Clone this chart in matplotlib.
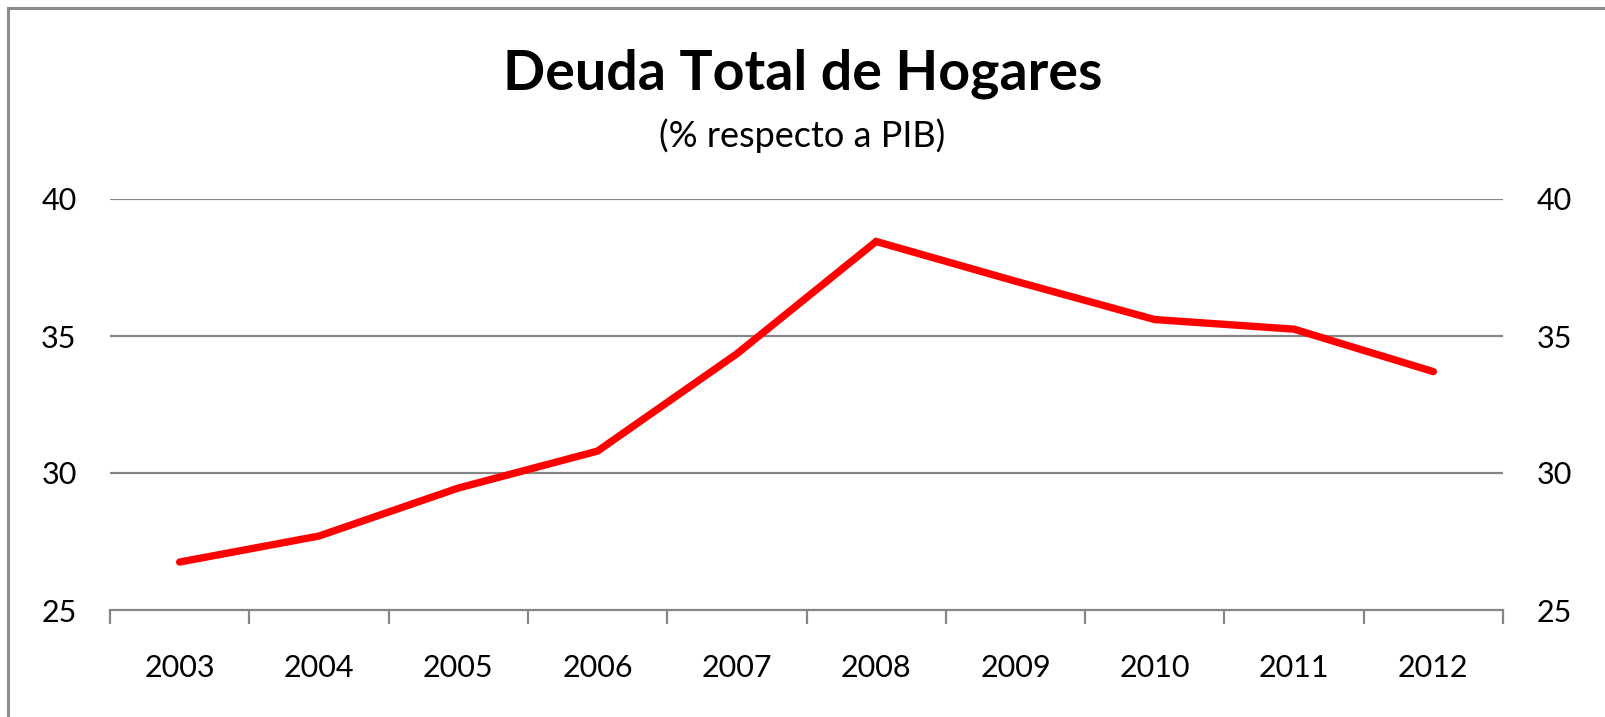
import matplotlib.pyplot as plt
import matplotlib.patches as mpatches

plt.rcParams["font.family"] = ["Lato", "DejaVu Sans"]

years = ["2003", "2004", "2005", "2006", "2007", "2008", "2009", "2010", "2011", "2012"]
deuda = [26.75, 27.7, 29.45, 30.8, 34.35, 38.45, 37.0, 35.6, 35.25, 33.7]
y_ticks = [25, 30, 35, 40]

grid_color = "#868686"

fig = plt.figure(figsize=(16.05, 7.17), dpi=100)
fig.patch.set_facecolor("white")

# outer chart frame (only top/left visible in the crop)
frame = mpatches.Rectangle(
    (8 / 1605, -0.05), 1.2, 1 - 8 / 717 + 0.05,
    transform=fig.transFigure, fill=False,
    edgecolor="#8c8c8c", linewidth=2.2,
)
fig.patches.append(frame)

ax = fig.add_axes([110 / 1605, 1 - 610 / 717, (1503 - 110) / 1605, (610 - 199) / 717])

x = list(range(len(years)))
ax.plot(x, deuda, color="#ff0000", linewidth=5.3, solid_capstyle="round",
        solid_joinstyle="miter", zorder=3)

ax.set_xlim(-0.5, len(years) - 0.5)
ax.set_ylim(25, 40)

for yv in y_ticks[1:]:
    ax.axhline(yv, color=grid_color, linewidth=1.6, zorder=1)

for side in ["top", "left", "right"]:
    ax.spines[side].set_visible(False)
ax.spines["bottom"].set_color(grid_color)
ax.spines["bottom"].set_linewidth(1.6)

# category ticks at band boundaries, labels in band centres
ax.set_xticks([i - 0.5 for i in range(len(years) + 1)], minor=False)
ax.set_xticklabels([])
ax.set_xticks(x, minor=True)
ax.set_xticklabels(years, minor=True, fontsize=22)
ax.tick_params(axis="x", which="major", length=10, width=1.6, color=grid_color, direction="out")
ax.tick_params(axis="x", which="minor", length=0, pad=32)

ax.set_yticks(y_ticks)
ax.set_yticklabels([str(v) for v in y_ticks], fontsize=22)
ax.tick_params(axis="y", length=0, pad=24)

ax2 = ax.twinx()
ax2.set_ylim(25, 40)
ax2.set_yticks(y_ticks)
ax2.set_yticklabels([str(v) for v in y_ticks], fontsize=22)
ax2.tick_params(axis="y", length=0, pad=24)
for side in ["top", "left", "right", "bottom"]:
    ax2.spines[side].set_visible(False)

fig.text(0.5, 1 - 74 / 717, "Deuda Total de Hogares", ha="center", va="center",
         fontsize=40, fontweight="bold")
fig.text(0.5, 1 - 136 / 717, "(% respecto a PIB)", ha="center", va="center",
         fontsize=26)

fig.savefig("out.png", dpi=100, facecolor="white")
